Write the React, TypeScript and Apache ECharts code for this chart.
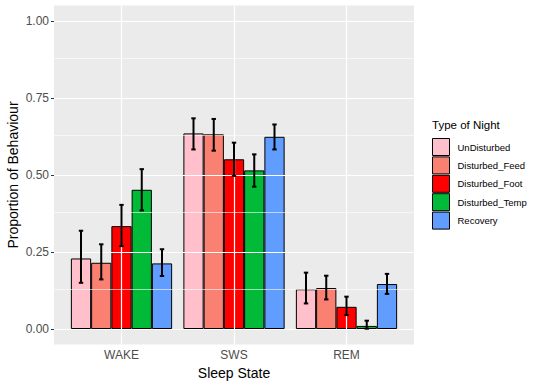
import React, { useEffect, useRef } from "react";
import * as echarts from "echarts";

const categories = ["WAKE", "SWS", "REM"];
const nights = ["UnDisturbed", "Disturbed_Feed", "Disturbed_Foot", "Disturbed_Temp", "Recovery"];
const nightColors = ["#FFC0CB", "#FA8072", "#FF0000", "#00BA38", "#619CFF"];

const meanUnDisturbed = [0.229, 0.635, 0.129];
const meanDisturbedFeed = [0.215, 0.632, 0.133];
const meanDisturbedFoot = [0.334, 0.551, 0.072];
const meanDisturbedTemp = [0.452, 0.515, 0.010];
const meanRecovery = [0.213, 0.624, 0.146];

const lowUnDisturbed = [0.150, 0.583, 0.083];
const highUnDisturbed = [0.319, 0.684, 0.183];
const lowDisturbedFeed = [0.161, 0.579, 0.096];
const highDisturbedFeed = [0.275, 0.682, 0.173];
const lowDisturbedFoot = [0.269, 0.497, 0.045];
const highDisturbedFoot = [0.403, 0.605, 0.105];
const lowDisturbedTemp = [0.385, 0.462, 0.001];
const highDisturbedTemp = [0.519, 0.567, 0.027];
const lowRecovery = [0.172, 0.583, 0.114];
const highRecovery = [0.259, 0.664, 0.179];

const yTicks = [0, 0.25, 0.5, 0.75, 1];
const yMinorTicks = [0.125, 0.375, 0.625, 0.875];
const xCategoryPositions = [1, 2, 3];

const FONT = "Liberation Sans";

export default function App() {
  const ref = useRef<HTMLDivElement>(null);
  useEffect(() => {
    if (!ref.current) return;
    const chart = echarts.init(ref.current, null, { renderer: "svg" });
    const means = [meanUnDisturbed, meanDisturbedFeed, meanDisturbedFoot, meanDisturbedTemp, meanRecovery];
    const lows = [lowUnDisturbed, lowDisturbedFeed, lowDisturbedFoot, lowDisturbedTemp, lowRecovery];
    const highs = [highUnDisturbed, highDisturbedFeed, highDisturbedFoot, highDisturbedTemp, highRecovery];

    const errData: number[][] = [];
    for (let s = 0; s < nights.length; s++) {
      for (let c = 0; c < categories.length; c++) {
        errData.push([c, s, lows[s][c], highs[s][c]]);
      }
    }

    const barSeries = nights.map((name, i) => ({
      name,
      type: "bar",
      xAxisIndex: 1,
      yAxisIndex: 1,
      data: means[i],
      barGap: "0%",
      barCategoryGap: "10%",
      z: 2,
      itemStyle: { color: nightColors[i], borderColor: "#000", borderWidth: 1 },
      emphasis: { disabled: true },
    }));

    const gridLines: any[] = [];
    yTicks.forEach((v) => gridLines.push({ yAxis: v, lineStyle: { color: "#fff", width: 1.2, type: "solid" } }));
    yMinorTicks.forEach((v) => gridLines.push({ yAxis: v, lineStyle: { color: "#fff", width: 0.6, type: "solid" } }));
    xCategoryPositions.forEach((v) => gridLines.push({ xAxis: v, lineStyle: { color: "#fff", width: 1.2, type: "solid" } }));

    const panelLeft = 54;
    const panelWidth = 360;
    const unit = panelWidth / 3.2;

    chart.setOption({
      animation: false,
      textStyle: { fontFamily: FONT },
      grid: [
        {
          left: panelLeft,
          top: 5.6,
          width: panelWidth,
          height: 338.8,
          show: true,
          backgroundColor: "#EBEBEB",
          borderWidth: 0,
          containLabel: false,
          outerBoundsMode: "none",
        },
        {
          left: panelLeft + unit * 0.1,
          top: 5.6,
          width: unit * 3,
          height: 338.8,
          show: false,
          containLabel: false,
          outerBoundsMode: "none",
        },
      ],
      legend: {
        orient: "vertical",
        left: 432,
        top: 138,
        padding: 0,
        itemWidth: 17,
        itemHeight: 17,
        itemGap: 0.4,
        icon: "rect",
        data: nights,
        itemStyle: { borderColor: "#000", borderWidth: 1 },
        textStyle: { fontFamily: FONT, fontSize: 9.5, color: "#000", padding: [0, 0, 0, 3] },
        selectedMode: false,
      },
      graphic: [
        {
          type: "text",
          left: 432,
          top: 119,
          style: { text: "Type of Night", font: `11.5px "${FONT}"`, fill: "#000" },
        },
      ],
      xAxis: [
        {
          type: "value",
          gridIndex: 0,
          min: 0.4,
          max: 3.6,
          show: false,
          splitLine: { show: false },
        },
        {
          type: "category",
          gridIndex: 1,
          data: categories,
          boundaryGap: true,
          axisLine: { show: false },
          axisTick: { show: true, alignWithLabel: true, length: 3, lineStyle: { color: "#333" } },
          axisLabel: { color: "#4D4D4D", fontSize: 12, margin: 5, fontFamily: FONT },
          splitLine: { show: false },
          name: "Sleep State",
          nameLocation: "middle",
          nameGap: 22,
          nameMoveOverlap: false,
          nameTextStyle: { color: "#000", fontSize: 14, fontFamily: FONT },
        },
      ],
      yAxis: [
        {
          type: "value",
          gridIndex: 0,
          min: -0.05,
          max: 1.05,
          axisLine: { show: false },
          axisTick: { show: true, length: 3, customValues: yTicks, lineStyle: { color: "#333" } },
          axisLabel: {
            color: "#4D4D4D",
            fontSize: 12,
            margin: 5,
            fontFamily: FONT,
            customValues: yTicks,
            formatter: (v: number) => v.toFixed(2),
          },
          splitLine: { show: false },
          name: "Proportion of Behaviour",
          nameLocation: "middle",
          nameGap: 34,
          nameMoveOverlap: false,
          nameTextStyle: { color: "#000", fontSize: 14, fontFamily: FONT },
        },
        {
          type: "value",
          gridIndex: 1,
          min: -0.05,
          max: 1.05,
          show: false,
          splitLine: { show: false },
        },
      ],
      series: [
        {
          type: "line",
          xAxisIndex: 0,
          yAxisIndex: 0,
          data: [],
          z: 1,
          silent: true,
          markLine: {
            silent: true,
            symbol: ["none", "none"],
            label: { show: false },
            animation: false,
            data: gridLines,
          },
        },
        ...barSeries,
        {
          type: "custom",
          xAxisIndex: 1,
          yAxisIndex: 1,
          z: 5,
          silent: true,
          encode: { x: 0, y: [2, 3] },
          data: errData,
          renderItem: (params: any, api: any) => {
            const c = api.value(0);
            const s = api.value(1);
            const lo = api.value(2);
            const hi = api.value(3);
            const band = api.size([1, 0])[0];
            const barW = (band * 0.9) / nights.length;
            const center = api.coord([c, 0])[0];
            const x = center + (s - (nights.length - 1) / 2) * barW;
            const yLo = api.coord([c, lo])[1];
            const yHi = api.coord([c, hi])[1];
            const cap = 2.2;
            const style = { stroke: "#000", lineWidth: 2 };
            return {
              type: "group",
              children: [
                { type: "line", shape: { x1: x, y1: yLo, x2: x, y2: yHi }, style },
                { type: "line", shape: { x1: x - cap, y1: yHi, x2: x + cap, y2: yHi }, style },
                { type: "line", shape: { x1: x - cap, y1: yLo, x2: x + cap, y2: yLo }, style },
              ],
            };
          },
        },
      ],
    });
    return () => chart.dispose();
  }, []);
  return (
    <div
      ref={ref}
      style={{ position: "fixed", left: 0, top: 0, width: 540, height: 386, background: "#fff" }}
    />
  );
}
